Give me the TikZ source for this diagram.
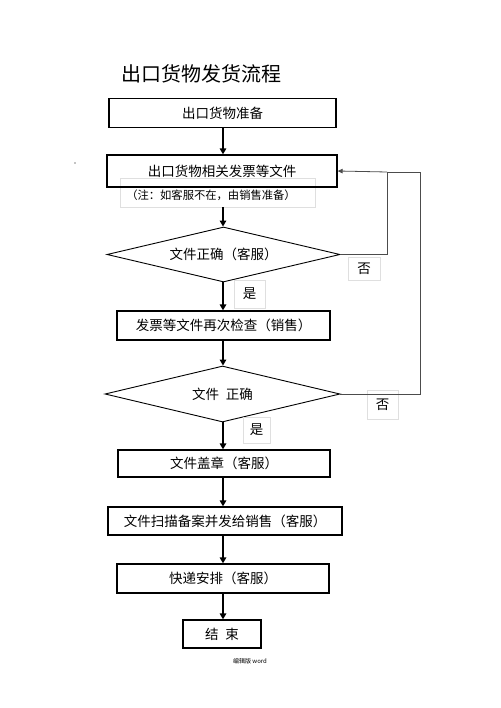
\documentclass[tikz,border=0pt]{standalone}
\usepackage{fontspec}
\newfontfamily\cjk{Noto Sans CJK SC}
\usetikzlibrary{shapes.geometric,arrows.meta}
\tikzset{
  box/.style={draw, line width=1.3pt, inner sep=0pt, font=\cjk\fontsize{13.5}{15}\selectfont},
  dia/.style={draw, diamond, aspect=4.25, line width=0.9pt, inner sep=0pt, font=\cjk\fontsize{13.5}{15}\selectfont},
  lbl/.style={draw=gray!25, line width=0.6pt, inner sep=0pt, font=\cjk\fontsize{13.5}{15}\selectfont},
  arr/.style={line width=1.8pt, -{Triangle[length=6pt,width=6.5pt]}},
  fb/.style={line width=0.8pt, draw=black!70},
  fbarr/.style={line width=0.8pt, draw=black!70, -{Triangle[length=5pt,width=4.5pt]}}
}
\begin{document}
\begin{tikzpicture}[x=1pt,y=-1pt]
\useasboundingbox (0,0) rectangle (500,708);
\fill[white] (0,0) rectangle (500,708);
\coordinate (col) at (223,0);
\node[font=\cjk\fontsize{20}{22}\selectfont] (title) at (201,74) {出口货物发货流程};
\node[lbl, minimum width=195pt, minimum height=29pt] (note) at (217.5,192.5) {};
\node[font=\cjk\fontsize{11.3}{13}\selectfont] (notetext) at (211,195.5) {（注：如客服不在，由销售准备）};
\node[box, minimum width=227pt, minimum height=29pt] (b1) at (222.5,113) {出口货物准备};
\node[box, minimum width=230pt, minimum height=32pt] (b2) at (222,171) {出口货物相关发票等文件};
\node[dia, minimum width=233pt, minimum height=55pt] (d1) at (223.5,254.5) {文件正确（客服）};
\node[box, minimum width=213pt, minimum height=29pt] (b3) at (223.5,325.5) {发票等文件再次检查（销售）};
\node[dia, minimum width=235pt, minimum height=56pt] (d2) at (222.5,394) {文件\enspace 正确};
\node[box, minimum width=212pt, minimum height=27pt] (b4) at (224,463.5) {文件盖章（客服）};
\node[box, minimum width=234pt, minimum height=28pt] (b5) at (225,521) {文件扫描备案并发给销售（客服）};
\node[box, minimum width=212pt, minimum height=29pt] (b6) at (223,578.5) {快递安排（客服）};
\node[box, minimum width=78pt, minimum height=28pt] (b7) at (222,634) {结\enspace 束};
\node[lbl, minimum width=32pt, minimum height=23pt] (no1) at (364,268.5) {否};
\node[lbl, minimum width=31pt, minimum height=29pt] (no2) at (382.5,404.5) {否};
\node[lbl, minimum width=31pt, minimum height=28pt] (yes1) at (249.5,294) {是};
\node[lbl, minimum width=27pt, minimum height=26pt] (yes2) at (256.5,430) {是};
\node[font=\cjk\fontsize{6}{7}\selectfont] (foot) at (250,661) {编辑版 word};
\fill (75,163) circle (0.7);
% main arrows
\draw[arr] (col |- b1.south) -- (col |- b2.north);
\draw[arr] (col |- note.south) -- (col |- d1.north);
\draw[arr] (col |- d1.south) -- (col |- b3.north);
\draw[arr] (col |- b3.south) -- (col |- d2.north);
\draw[arr] (col |- d2.south) -- (col |- b4.north);
\draw[arr] (col |- b4.south) -- (col |- b5.north);
\draw[arr] (col |- b5.south) -- (col |- b6.north);
\draw[arr] (col |- b6.south) -- (col |- b7.north);
% feedback
\coordinate (f1) at (387,172);
\coordinate (f2) at (420,172);
\draw[fb] (d1.east) -| (f1);
\draw[fb] (d2.east) -| (f2) -- (f1);
\draw[fbarr] (f1) -- (b2.east);
\end{tikzpicture}
\end{document}
